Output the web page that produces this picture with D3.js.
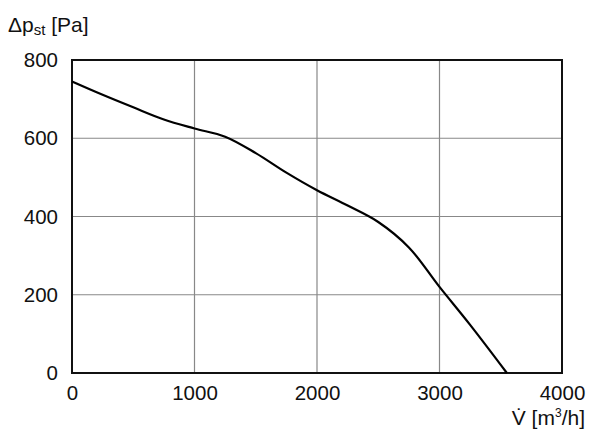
<!DOCTYPE html>
<html>
<head>
<meta charset="utf-8">
<script src="https://cdn.jsdelivr.net/npm/d3@7"></script>
<style>
  body { margin: 0; background: #fff; }
  svg { display: block; font-family: "Liberation Sans", Arial, sans-serif; }
  .tick text { font-size: 20.5px; fill: #111; }
  .grid line { stroke: #888; stroke-width: 1.2; }
</style>
</head>
<body>
<svg id="chart"></svg>
<script>
// volume flow [m3/h] and static pressure [Pa]
var flow     = [0, 250, 500, 750, 1000, 1250, 1500, 1750, 2000, 2250, 2500, 2750, 3000, 3250, 3550];
var pressure = [745, 711, 679, 648, 625, 604, 562, 512, 467, 428, 386, 321, 220, 123, 0];
var xTicks = [0, 1000, 2000, 3000, 4000];
var yTicks = [0, 200, 400, 600, 800];

var width = 600,
    height = 435,
    mLeft = 72, mRight = 562,
    mTop = 60, mBottom = 373;

var x = d3.scaleLinear().domain([0, 4000]).range([mLeft, mRight]),
    y = d3.scaleLinear().domain([0, 800]).range([mBottom, mTop]);

var svg = d3.select("#chart")
    .attr("width", width)
    .attr("height", height);

// grid
var grid = svg.append("g").attr("class", "grid");
grid.selectAll(".gx")
    .data(xTicks.slice(1, -1))
  .enter().append("line")
    .attr("x1", function(d){ return x(d); })
    .attr("x2", function(d){ return x(d); })
    .attr("y1", mTop).attr("y2", mBottom);
grid.selectAll(".gy")
    .data(yTicks.slice(1, -1))
  .enter().append("line")
    .attr("x1", mLeft).attr("x2", mRight)
    .attr("y1", function(d){ return y(d); })
    .attr("y2", function(d){ return y(d); });

// frame
svg.append("rect")
    .attr("x", mLeft).attr("y", mTop)
    .attr("width", mRight - mLeft).attr("height", mBottom - mTop)
    .attr("fill", "none")
    .attr("stroke", "#111")
    .attr("stroke-width", 2);

// axes (labels only)
var xAxis = d3.axisBottom(x).tickValues(xTicks).tickSize(0).tickPadding(12).tickFormat(d3.format("d"));
var yAxis = d3.axisLeft(y).tickValues(yTicks).tickSize(0).tickPadding(14).tickFormat(d3.format("d"));

svg.append("g")
    .attr("transform", "translate(0," + mBottom + ")")
    .call(xAxis)
    .call(function(g){ g.select(".domain").remove(); });

svg.append("g")
    .attr("transform", "translate(" + mLeft + ",0)")
    .call(yAxis)
    .call(function(g){ g.select(".domain").remove(); });

// curve
var line = d3.line()
    .x(function(d, i){ return x(flow[i]); })
    .y(function(d){ return y(d); })
    .curve(d3.curveCatmullRom.alpha(0.5));

svg.append("path")
    .datum(pressure)
    .attr("d", line)
    .attr("fill", "none")
    .attr("stroke", "#000")
    .attr("stroke-width", 2.2);

// axis titles
var yt = svg.append("text")
    .attr("x", 8).attr("y", 32)
    .attr("font-size", 21)
    .attr("fill", "#111");
yt.append("tspan").text("\u0394p");
yt.append("tspan").attr("font-size", 15).attr("dy", 3).text("st");
yt.append("tspan").attr("dy", -3).text(" [Pa]");

var xt = svg.append("text")
    .attr("x", 585).attr("y", 425)
    .attr("text-anchor", "end")
    .attr("font-size", 21)
    .attr("fill", "#111");
xt.append("tspan").text("V\u0307 [m");
xt.append("tspan").attr("font-size", 12).attr("dy", -8).text("3");
xt.append("tspan").attr("dy", 8).text("/h]");
</script>
</body>
</html>
